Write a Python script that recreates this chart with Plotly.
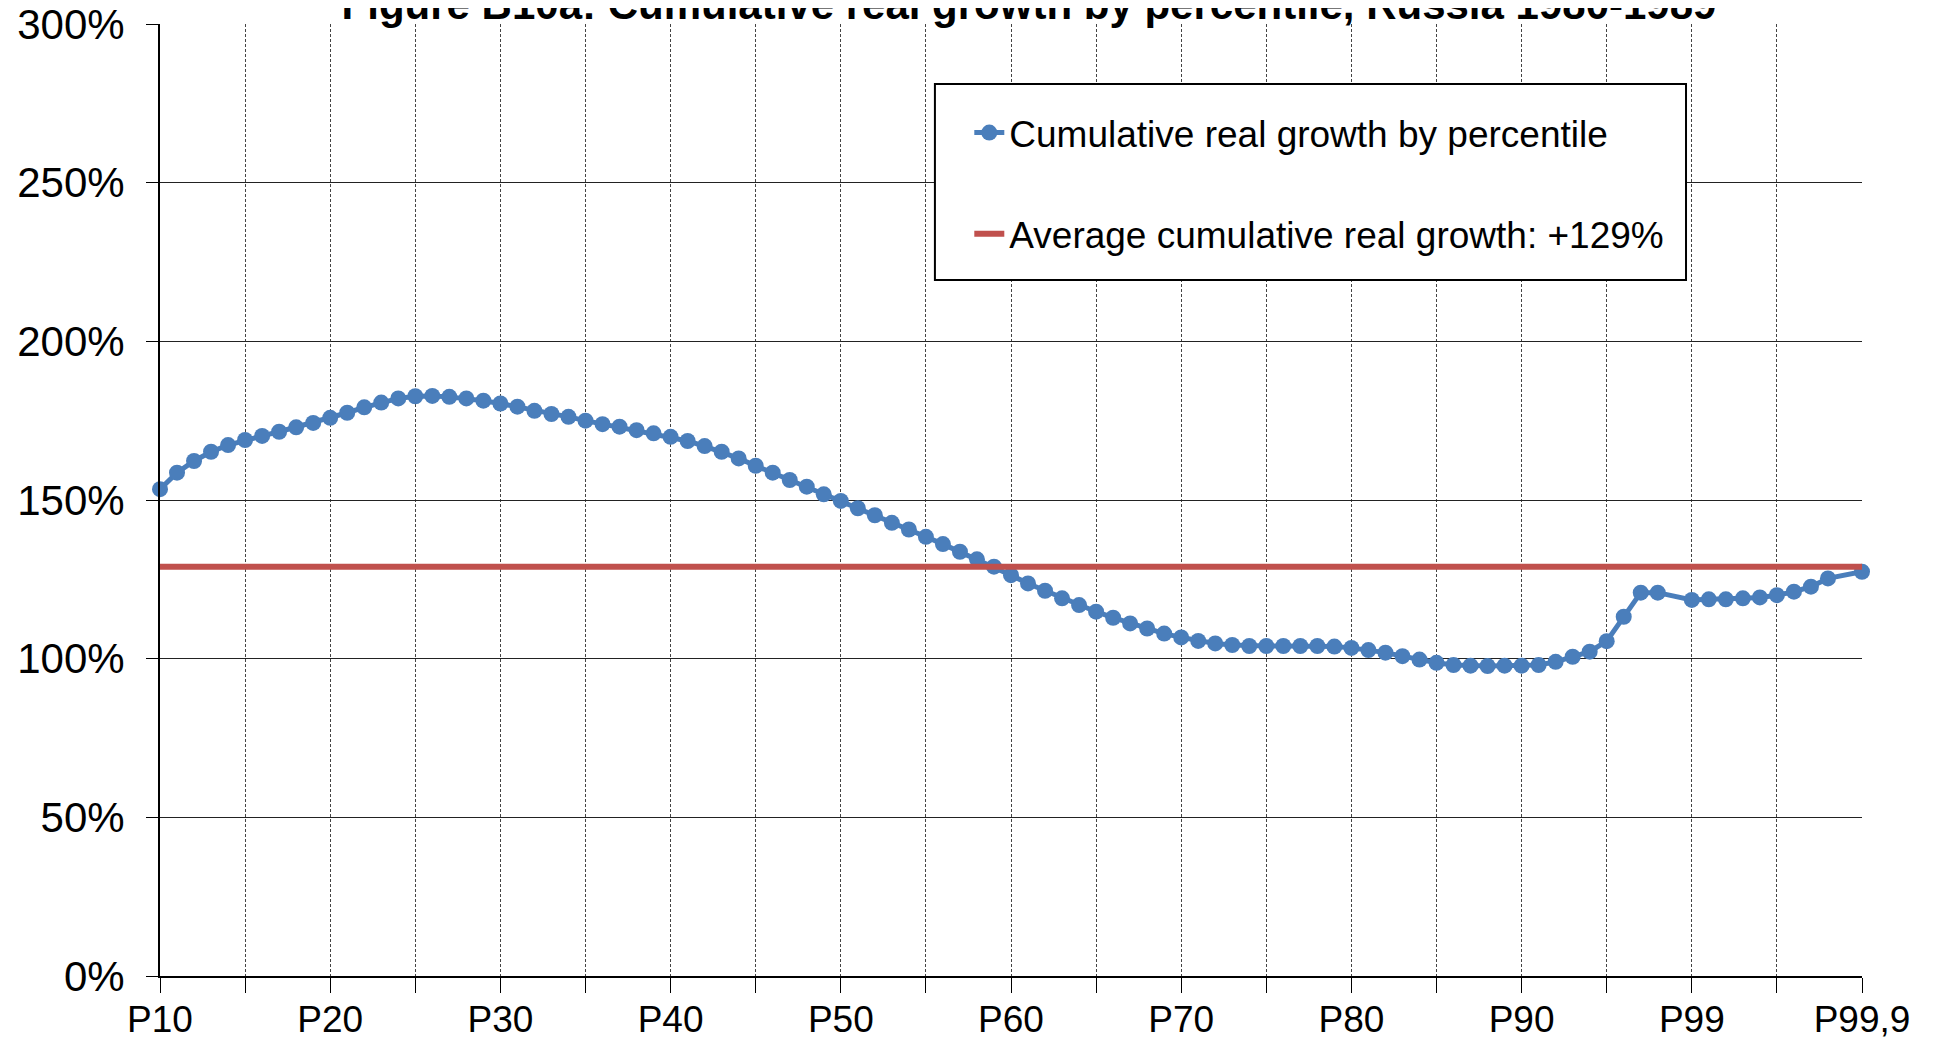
import plotly.graph_objects as go

# Percentile categories (x axis), with two empty slots as in the source sheet
categories = ([f"P{p}" for p in range(10, 99)] + [""] + ["P99"]
              + [f"P99,{d}" for d in range(1, 9)] + [""] + ["P99,9"])

# Cumulative real growth by percentile (%)
growth = [
    153.4, 158.6, 162.3, 165.2, 167.3, 168.9, 170.2, 171.5, 172.9, 174.3,
    175.9, 177.5, 179.2, 180.7, 182.0, 182.7, 182.8, 182.5, 182.0, 181.3,
    180.4, 179.4, 178.1, 177.1, 176.2, 175.0, 173.9, 173.1, 172.0, 171.0,
    169.9, 168.6, 167.0, 165.2, 163.1, 160.8, 158.6, 156.3, 154.2, 151.8,
    149.7, 147.4, 145.2, 142.8, 140.7, 138.4, 136.1, 133.7, 131.3, 129.0,
    126.3, 123.7, 121.4, 119.0, 116.9, 114.8, 112.9, 111.1, 109.5, 107.9,
    106.7, 105.6, 104.8, 104.3, 104.0, 104.0, 104.0, 104.0, 104.0, 103.8,
    103.4, 102.7, 101.9, 100.8, 99.7, 98.7, 98.0, 97.8, 97.7, 97.8,
    97.8, 98.0, 99.0, 100.6, 102.2, 105.5, 113.2, 120.8, 120.8, None,
    118.5, 118.7, 118.7, 119.0, 119.3, 120.0, 121.1, 122.7, 125.3, None,
    127.4,
]

average_growth = 129  # %

series_name = "Cumulative real growth by percentile"
average_name = "Average cumulative real growth: +129%"
title_text = "Figure B10a: Cumulative real growth by percentile, Russia 1980-1989"

x_idx = list(range(len(categories)))
tick_idx = x_idx[::5]
tick_text = [categories[i] if i % 10 == 0 else "" for i in tick_idx]

BLUE = "#4A7EBB"
RED = "#C0504D"
FONT = "Liberation Sans, Arial, sans-serif"

W, H = 1927, 1032  # page body has an 8px margin

fig = go.Figure()
fig.add_trace(go.Scatter(
    x=x_idx, y=growth, name=series_name, mode="lines+markers",
    connectgaps=True, cliponaxis=False, legendgroup="a",
    line=dict(color=BLUE, width=5),
    marker=dict(color=BLUE, size=16, line=dict(width=0)),
))
fig.add_trace(go.Scatter(
    x=[x_idx[0], x_idx[-1]], y=[average_growth, average_growth],
    name=average_name, mode="lines", legendgroup="b",
    line=dict(color=RED, width=6),
))

# legend frame
fig.add_shape(type="rect", xref="paper", yref="paper",
              x0=0.4553, x1=0.8966, y0=0.731, y1=0.937,
              fillcolor="white", line=dict(color="black", width=2), layer="above")

fig.update_layout(
    width=W, height=H,
    margin=dict(l=152, r=73, t=16, b=64, autoexpand=False),
    paper_bgcolor="white", plot_bgcolor="white",
    font=dict(family=FONT, color="black"),
    title=dict(text=title_text, font=dict(size=42, family=FONT, color="black", weight="bold"),
               x=(1029 - 8) / W, xanchor="center", xref="container",
               y=1 - 11 / H, yanchor="bottom", yref="container", automargin=False),
    showlegend=True,
    legend=dict(x=0.4755, y=0.918, xanchor="left", yanchor="top",
                bgcolor="rgba(0,0,0,0)", borderwidth=0,
                font=dict(size=37, family=FONT, color="black"),
                tracegroupgap=50, traceorder="grouped"),
    xaxis=dict(
        range=[x_idx[0], x_idx[-1]], tickmode="array", tickvals=tick_idx, ticktext=tick_text,
        showgrid=True, gridcolor="#444", gridwidth=1, griddash="3px,2px",
        showline=True, linecolor="black", linewidth=2,
        ticks="outside", ticklen=15, tickcolor="black", tickwidth=1,
        tickfont=dict(size=37, family=FONT, color="black"),
        ticklabeloverflow="allow", ticklabelstandoff=-5,
        zeroline=False, automargin=False,
    ),
    yaxis=dict(
        range=[0, 300], dtick=50, tick0=0, ticksuffix="%",
        showgrid=True, gridcolor="#222", gridwidth=1.2,
        showline=True, linecolor="black", linewidth=2,
        ticks="outside", ticklen=12, tickcolor="black", tickwidth=1,
        tickfont=dict(size=42, family=FONT, color="black"),
        ticklabelstandoff=13, ticklabeloverflow="allow",
        zeroline=False, automargin=False,
    ),
)

fig.write_html("out.html")
